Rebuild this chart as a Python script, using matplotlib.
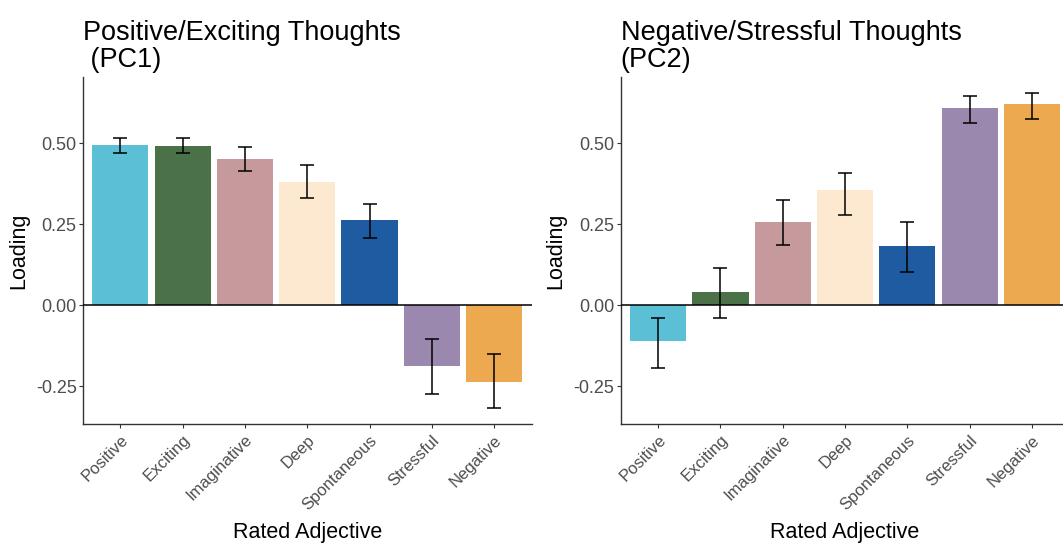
import numpy as np
from matplotlib import pyplot as plt

plt.rcParams['font.family'] = ['Liberation Sans', 'DejaVu Sans']

adjectives = ['Positive', 'Exciting', 'Imaginative', 'Deep', 'Spontaneous', 'Stressful', 'Negative']
bar_colors = ['#5BBFD6', '#4A7148', '#C69A9C', '#FDE8D0', '#1E5BA0', '#9A88AE', '#EDA94F']

# PC1 loadings and error bar limits
pc1_loading = [0.495, 0.493, 0.451, 0.379, 0.262, -0.189, -0.238]
pc1_low = [0.469, 0.469, 0.413, 0.330, 0.207, -0.275, -0.318]
pc1_high = [0.517, 0.517, 0.488, 0.433, 0.312, -0.105, -0.151]

# PC2 loadings and error bar limits
pc2_loading = [-0.111, 0.041, 0.257, 0.356, 0.182, 0.608, 0.620]
pc2_low = [-0.195, -0.039, 0.187, 0.277, 0.102, 0.564, 0.574]
pc2_high = [-0.039, 0.114, 0.325, 0.408, 0.257, 0.646, 0.656]

titles = ['Positive/Exciting Thoughts\n (PC1)', 'Negative/Stressful Thoughts\n(PC2)']

fig = plt.figure(figsize=(10.63, 5.45), dpi=100)
ax1 = fig.add_axes([0.078, 0.222, 0.422, 0.637])
ax2 = fig.add_axes([0.584, 0.222, 0.422, 0.637])

y_min, y_max = -0.367, 0.705

for ax, vals, lo, hi, title in [(ax1, pc1_loading, pc1_low, pc1_high, titles[0]),
                                (ax2, pc2_loading, pc2_low, pc2_high, titles[1])]:
    x = np.arange(1, len(adjectives) + 1)
    vals = np.array(vals)
    ax.bar(x, vals, width=0.9, color=bar_colors, zorder=2)
    err = [vals - np.array(lo), np.array(hi) - vals]
    ax.errorbar(x, vals, yerr=err, fmt='none', ecolor='black', elinewidth=1.1,
                capsize=4.7, capthick=1.1, zorder=3)
    ax.axhline(0, color='black', linewidth=1.1, zorder=4)

    ax.set_xlim(0.4, 7.6)
    ax.set_ylim(y_min, y_max)
    ax.set_yticks([-0.25, 0.0, 0.25, 0.5])
    ax.set_yticklabels(['-0.25', '0.00', '0.25', '0.50'])
    ax.set_xticks(x)
    ax.set_xticklabels(adjectives, rotation=45, ha='right', rotation_mode='anchor')

    ax.tick_params(axis='y', labelsize=13, labelcolor='#4D4D4D', color='#333333',
                   length=3, width=0.8, pad=1.5)
    ax.tick_params(axis='x', labelsize=12, labelcolor='#4D4D4D', color='#333333',
                   length=3, width=0.8, pad=3)
    for side in ['top', 'right']:
        ax.spines[side].set_visible(False)
    for side in ['left', 'bottom']:
        ax.spines[side].set_color('#333333')
        ax.spines[side].set_linewidth(1.0)

    ax.set_ylabel('Loading', fontsize=15.5, labelpad=5)
    ax.set_xlabel('Rated Adjective', fontsize=15.5, labelpad=7)
    ax.set_title(title, fontsize=19.5, loc='left', ha='left', x=0.0, pad=7, linespacing=1.05)

fig.savefig('out.png', dpi=100, facecolor='white')
